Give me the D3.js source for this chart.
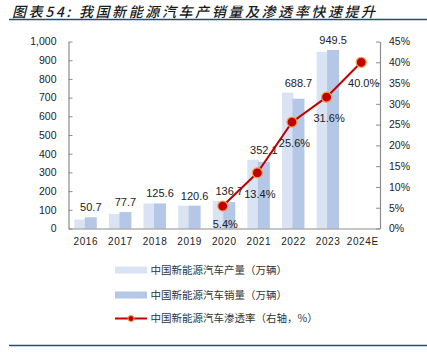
<!DOCTYPE html>
<html>
<head>
<meta charset="utf-8">
<script src="https://cdn.jsdelivr.net/npm/d3@7"></script>
<style>
  body { margin: 0; background: #fff; }
  svg text { font-family: "Liberation Sans", Arial, sans-serif; fill: #222; }
  .cjk { font-family: "Noto Sans CJK SC", sans-serif; }
  .axis path, .axis line { stroke: #8c8c8c; }
</style>
</head>
<body>
<div id="graph"></div>
<script>
// data
var years       = ['2016', '2017', '2018', '2019', '2020', '2021', '2022', '2023', '2024E'];
var production  = [48, 77, 134, 122, 147, 368, 727, 945];
var sales       = [60, 88, 134, 122, 141, 356, 694, 955];
var salesLabels = ['50.7', '77.7', '125.6', '120.6', '136.7', '352.1', '688.7', '949.5'];
var rateYears   = ['2020', '2021', '2022', '2023', '2024E'];
var rate        = [5.4, 13.4, 25.6, 31.6, 40.0];
var leftTicks   = [0, 100, 200, 300, 400, 500, 600, 700, 800, 900, 1000];
var rightTicks  = [0, 5, 10, 15, 20, 25, 30, 35, 40, 45];
var legendLabels = ['中国新能源汽车产量（万辆）', '中国新能源汽车销量（万辆）', '中国新能源汽车渗透率（右轴，%）'];

var W = 427, H = 352;
var plot = { left: 68.5, right: 380, top: 41.5, bottom: 228.5 };

var svg = d3.select('div#graph')
            .append('svg')
            .attr('width', W)
            .attr('height', H);

// title + rules
svg.append('text')
   .attr('class', 'cjk')
   .attr('x', 12)
   .attr('y', 16.5)
   .style('font-size', '14px')
   .style('font-style', 'italic')
   .style('font-weight', 500)
   .style('letter-spacing', '2.6px')
   .style('fill', '#1a1a1a')
   .text('图表54:  我国新能源汽车产销量及渗透率快速提升');

svg.append('line')
   .attr('x1', 9).attr('x2', W).attr('y1', 19.5).attr('y2', 19.5)
   .attr('stroke', '#1f4e79').attr('stroke-width', 1.6);

svg.append('line')
   .attr('x1', 9).attr('x2', W).attr('y1', 345.5).attr('y2', 345.5)
   .attr('stroke', '#1f4e79').attr('stroke-width', 1.6);

// scales
var xScale = d3.scaleBand()
               .domain(years)
               .range([plot.left, plot.right])
               .padding(0);

var yLeft = d3.scaleLinear()
              .domain([0, 1000])
              .range([plot.bottom, plot.top]);

var yRight = d3.scaleLinear()
               .domain([0, 45])
               .range([plot.bottom, plot.top]);

var cx = function (y) { return xScale(y) + xScale.bandwidth() / 2; };

// bars: production behind, sales on top
svg.append('g')
   .selectAll('rect')
   .data(production)
   .enter()
   .append('rect')
   .attr('x', function (d, i) { return cx(years[i]) - 11.5; })
   .attr('width', 11.5)
   .attr('y', function (d) { return yLeft(d); })
   .attr('height', function (d) { return yLeft(0) - yLeft(d); })
   .attr('fill', '#dae3f3');

svg.append('g')
   .selectAll('rect')
   .data(sales)
   .enter()
   .append('rect')
   .attr('x', function (d, i) { return cx(years[i]) - 1; })
   .attr('width', 12)
   .attr('y', function (d) { return yLeft(d); })
   .attr('height', function (d) { return yLeft(0) - yLeft(d); })
   .attr('fill', '#b4c7e7');

// axes
var leftAxis = d3.axisLeft(yLeft)
                 .tickValues(leftTicks)
                 .tickSizeInner(-4)
                 .tickSizeOuter(0)
                 .tickPadding(12)
                 .tickFormat(d3.format(','));

var gl = svg.append('g')
            .attr('class', 'axis')
            .attr('transform', 'translate(' + plot.left + ',0)')
            .call(leftAxis);

var rightAxis = d3.axisRight(yRight)
                  .tickValues(rightTicks)
                  .tickSizeInner(-4)
                  .tickSizeOuter(0)
                  .tickPadding(9)
                  .tickFormat(function (d) { return d + '%'; });

var gr = svg.append('g')
            .attr('class', 'axis')
            .attr('transform', 'translate(' + plot.right + ',0)')
            .call(rightAxis);

var bottomAxis = d3.axisBottom(xScale)
                   .tickSize(0)
                   .tickPadding(9);

var gb = svg.append('g')
            .attr('class', 'axis')
            .attr('transform', 'translate(0,' + plot.bottom + ')')
            .call(bottomAxis);

[gl, gr, gb].forEach(function (g) {
    g.selectAll('text')
     .style('font-family', '"Liberation Sans", Arial, sans-serif')
     .style('font-size', '10.5px')
     .style('fill', '#222');
    g.select('.domain').attr('stroke', '#8c8c8c').attr('stroke-width', 1.2);
});
gb.selectAll('text').style('font-size', '10px').style('letter-spacing', '0.6px');

// sales value labels
svg.append('g')
   .selectAll('text')
   .data(salesLabels)
   .enter()
   .append('text')
   .attr('x', function (d, i) { return cx(years[i]) + 5; })
   .attr('y', function (d, i) { return Math.min(yLeft(sales[i]), yLeft(production[i])) - 6; })
   .attr('text-anchor', 'middle')
   .style('font-size', '11px')
   .text(function (d) { return d; });

// penetration line
var line = d3.line()
             .x(function (d, i) { return cx(rateYears[i]) - 1.5; })
             .y(function (d) { return yRight(d); });

svg.append('path')
   .datum(rate)
   .attr('d', line)
   .attr('fill', 'none')
   .attr('stroke', '#c00000')
   .attr('stroke-width', 2);

svg.append('g')
   .selectAll('circle')
   .data(rate)
   .enter()
   .append('circle')
   .attr('cx', function (d, i) { return cx(rateYears[i]) - 1.5; })
   .attr('cy', function (d) { return yRight(d); })
   .attr('r', 5)
   .attr('fill', '#c00000')
   .attr('stroke', '#f5a04a')
   .attr('stroke-width', 1.2);

svg.append('g')
   .selectAll('text')
   .data(rate)
   .enter()
   .append('text')
   .attr('x', function (d, i) { return cx(rateYears[i]) + 1; })
   .attr('y', function (d, i) { return yRight(d) + (i === 0 ? 21.5 : 25); })
   .attr('text-anchor', 'middle')
   .style('font-size', '11px')
   .text(function (d) { return d.toFixed(1) + '%'; });

// legend
var legendY = [270, 295, 318.5];
var legend = svg.append('g');

legend.append('rect')
      .attr('x', 115).attr('y', legendY[0] - 3.5)
      .attr('width', 32).attr('height', 7)
      .attr('fill', '#dae3f3');

legend.append('rect')
      .attr('x', 115).attr('y', legendY[1] - 3.5)
      .attr('width', 32).attr('height', 7)
      .attr('fill', '#b4c7e7');

legend.append('line')
      .attr('x1', 115).attr('x2', 147)
      .attr('y1', legendY[2]).attr('y2', legendY[2])
      .attr('stroke', '#c00000').attr('stroke-width', 2);

legend.append('circle')
      .attr('cx', 131).attr('cy', legendY[2]).attr('r', 3)
      .attr('fill', '#c00000').attr('stroke', '#f5a04a').attr('stroke-width', 1);

for (var i = 0; i < legendLabels.length; i++)
{
    legend.append('text')
          .attr('class', 'cjk')
          .attr('x', 150.5)
          .attr('y', legendY[i] + 3.8)
          .style('font-size', '10.5px')
          .style('fill', '#333')
          .text(legendLabels[i]);
}
</script>
</body>
</html>
